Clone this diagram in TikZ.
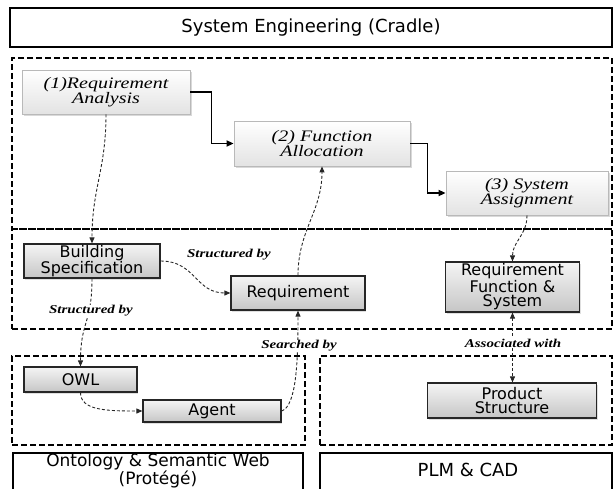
\documentclass[tikz,border=0pt]{standalone}
\usepackage{fontspec}
\setmainfont{Liberation Serif}
\setsansfont{DejaVu Sans}
\newfontfamily\procfont{Liberation Serif}[FakeStretch=1.25]
\usetikzlibrary{arrows.meta,shadows,calc}

\begin{document}
\begin{tikzpicture}[x=1pt,y=-1pt,
  proc/.style={draw=gray!55, line width=0.8pt, top color=white, bottom color=gray!22,
    font=\procfont\itshape\fontsize{16}{15}\selectfont, align=center, inner sep=0pt,
    drop shadow={opacity=0.3, shadow xshift=1.5pt, shadow yshift=-2pt}},
  sysbox/.style={draw=black!85, line width=1.2pt, top color=gray!8, bottom color=gray!45,
    font=\sffamily\fontsize{16}{14.5}\selectfont, align=center, inner sep=0pt,
    drop shadow={opacity=0.25, shadow xshift=1pt, shadow yshift=-1.5pt}},
  zone/.style={draw, line width=2pt, dash pattern=on 6pt off 3pt, inner sep=0pt},
  frame/.style={draw, line width=2.8pt, inner sep=0pt},
  flow/.style={line width=1.6pt, -{Triangle[length=7pt,width=6pt]}},
  dep/.style={line width=0.9pt, black!85, dash pattern=on 3pt off 2pt,
    -{Triangle[length=6pt,width=5pt]}},
  lbl/.style={font=\procfont\bfseries\itshape\fontsize{12}{12}\selectfont, fill=white, inner sep=1pt},
  plain/.style={font=\sffamily\fontsize{17}{14}\selectfont, align=center, inner sep=0pt}]

\useasboundingbox (0,0) rectangle (614,488);
\clip (0,0) rectangle (614,488);

% outer frames and dashed zones
\node[frame, minimum width=602pt, minimum height=39pt, font=\sffamily\fontsize{18}{18}\selectfont]
  (title) at (311,27.5) {System Engineering (Cradle)};
\node[zone, minimum width=600pt, minimum height=171pt] (upper) at (312,143.5) {};
\node[zone, minimum width=600pt, minimum height=100pt] (middle) at (312,279) {};
\node[zone, minimum width=293pt, minimum height=89pt] (lowleft) at (158.5,400.5) {};
\node[zone, minimum width=292pt, minimum height=89pt] (lowright) at (466,400.5) {};
\node[frame, minimum width=290pt, minimum height=50pt] (onto) at (158,478) {};
\node[frame, minimum width=292pt, minimum height=50pt] (plm) at (466,478) {};
\node[plain] (ontotext) at (158,471) {Ontology \& Semantic Web\\(Protégé)};
\node[plain, font=\sffamily\fontsize{18}{14}\selectfont] (plmtext) at (468,470) {PLM \& CAD};

% process steps
\node[proc, minimum width=168pt, minimum height=44pt] (ra) at (106,92) {(1)Requirement\\Analysis};
\node[proc, minimum width=176pt, minimum height=45pt] (fa) at (322,143.5) {(2) Function\\Allocation};
\node[proc, minimum width=162pt, minimum height=44pt] (sa) at (527,193) {(3) System\\Assignment};

% system elements
\node[sysbox, minimum width=136pt, minimum height=34pt] (bs) at (92,261) {Building\\Specification};
\node[sysbox, minimum width=134pt, minimum height=34pt] (req) at (298,293) {Requirement};
\node[sysbox, minimum width=134pt, minimum height=50pt] (rfs) at (512.5,287) {Requirement\\Function \&\\System};
\node[sysbox, minimum width=113pt, minimum height=25pt] (owl) at (80.5,379.5) {OWL};
\node[sysbox, minimum width=138pt, minimum height=22pt] (agent) at (212,411) {Agent};
\node[sysbox, minimum width=169pt, minimum height=35pt] (ps) at (512,400.5) {Product\\Structure};

% process flow
\draw[flow] (ra.east) -- ++(21,0) |- (fa.west);
\draw[flow] (fa.east) -- ++(17,0) |- (sa.west);

% dependencies
\draw[dep] (ra.south) .. controls +(0,55) and +(0,-55) .. (bs.north);
\draw[dep] (bs.east) .. controls +(35,0) and +(-35,0) .. (req.west);
\draw[dep] (bs.south) .. controls +(0,45) and +(0,-45) .. (owl.north);
\draw[dep] (owl.south) .. controls +(0,18) and +(-35,0) .. (agent.west);
\draw[dep] (agent.east) .. controls +(15,-5) and +(0,50) .. (req.south);
\draw[dep] (req.north) .. controls +(0,-45) and +(0,45) .. (fa.south);
\draw[dep] (sa.south) .. controls +(0,20) and +(0,-20) .. (rfs.north);
\draw[dep, {Triangle[length=6pt,width=5pt]}-{Triangle[length=6pt,width=5pt]}]
  (rfs.south) -- (rfs.south |- ps.north);

% relation labels
\node[lbl] (l1) at (229,255) {Structured by};
\node[lbl] (l2) at (91,311) {Structured by};
\node[lbl] (l3) at (299,346) {Searched by};
\node[lbl] (l4) at (513,343) {Associated with};
\end{tikzpicture}
\end{document}
